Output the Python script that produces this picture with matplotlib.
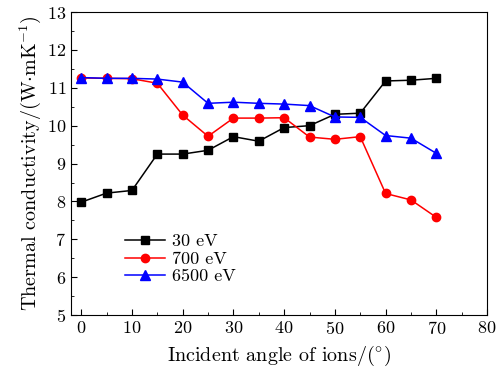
import numpy as np
import matplotlib
matplotlib.use("Agg")
import matplotlib.pyplot as plt
from matplotlib.ticker import MultipleLocator

plt.rcParams['font.family'] = 'serif'
plt.rcParams['font.serif'] = ['cmr10']
plt.rcParams['mathtext.fontset'] = 'cm'
plt.rcParams['axes.formatter.use_mathtext'] = True

angles = [0, 5, 10, 15, 20, 25, 30, 35, 40, 45, 50, 55, 60, 65, 70]
k_30ev = [7.98, 8.22, 8.29, 9.25, 9.25, 9.35, 9.71, 9.59, 9.95, 10.0, 10.30, 10.33, 11.18, 11.20, 11.25]
k_700ev = [11.26, 11.25, 11.24, 11.12, 10.28, 9.72, 10.20, 10.20, 10.21, 9.70, 9.64, 9.71, 8.21, 8.04, 7.58]
k_6500ev = [11.27, 11.25, 11.25, 11.23, 11.15, 10.59, 10.62, 10.59, 10.57, 10.53, 10.23, 10.22, 9.74, 9.67, 9.27]
labels = ['30 eV', '700 eV', '6500 eV']

fig = plt.figure(figsize=(4.97, 3.76), dpi=100)
ax = fig.add_axes([0.143, 0.162, 0.837, 0.806])

ax.plot(angles, k_30ev, color='black', marker='s', markersize=5.5, lw=1.1, label=labels[0])
ax.plot(angles, k_700ev, color='red', marker='o', markersize=6, lw=1.1, label=labels[1])
ax.plot(angles, k_6500ev, color='blue', marker='^', markersize=6.5, lw=1.1, label=labels[2])

ax.set_xlim(-2, 80)
ax.set_ylim(5, 13)
ax.xaxis.set_major_locator(MultipleLocator(10))
ax.xaxis.set_minor_locator(MultipleLocator(5))
ax.yaxis.set_major_locator(MultipleLocator(1))
ax.yaxis.set_minor_locator(MultipleLocator(0.5))
ax.tick_params(which='both', direction='in', top=False, right=False, labelsize=13)
ax.tick_params(which='major', length=4)
ax.tick_params(which='minor', length=2.5)

ax.set_xlabel(r'Incident angle of ions/$(^{\circ})$', fontsize=14.5, labelpad=5)
ax.set_ylabel(r'Thermal conductivity/(W$\cdot$mK$^{-1}$)', fontsize=14.5, labelpad=3)

ax.legend(loc='upper left', bbox_to_anchor=(0.1, 0.31), frameon=False, fontsize=13,
          handlelength=2.2, handletextpad=0.4, labelspacing=0.1, borderpad=0.2)

fig.savefig('out.png', dpi=100)
